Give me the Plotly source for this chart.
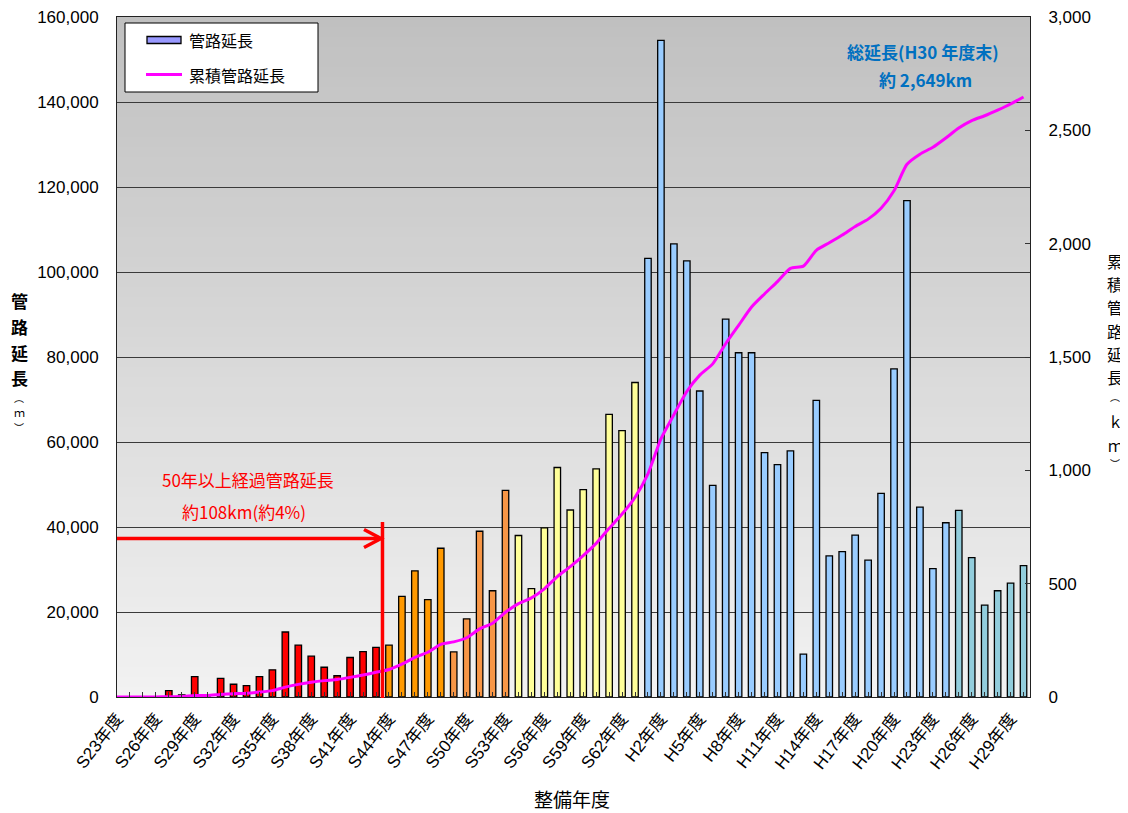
import plotly.graph_objects as go

# ---------------- data ----------------
categories = [
    "S23年度", "S24年度", "S25年度", "S26年度", "S27年度", "S28年度", "S29年度", "S30年度",
    "S31年度", "S32年度", "S33年度", "S34年度", "S35年度", "S36年度", "S37年度", "S38年度",
    "S39年度", "S40年度", "S41年度", "S42年度", "S43年度", "S44年度", "S45年度", "S46年度",
    "S47年度", "S48年度", "S49年度", "S50年度", "S51年度", "S52年度", "S53年度", "S54年度",
    "S55年度", "S56年度", "S57年度", "S58年度", "S59年度", "S60年度", "S61年度", "S62年度",
    "S63年度", "H1年度", "H2年度", "H3年度", "H4年度", "H5年度", "H6年度", "H7年度",
    "H8年度", "H9年度", "H10年度", "H11年度", "H12年度", "H13年度", "H14年度", "H15年度",
    "H16年度", "H17年度", "H18年度", "H19年度", "H20年度", "H21年度", "H22年度", "H23年度",
    "H24年度", "H25年度", "H26年度", "H27年度", "H28年度", "H29年度", "H30年度",
]

shown_labels = [
    "S23年度", "S26年度", "S29年度", "S32年度", "S35年度", "S38年度", "S41年度", "S44年度",
    "S47年度", "S50年度", "S53年度", "S56年度", "S59年度", "S62年度", "H2年度", "H5年度",
    "H8年度", "H11年度", "H14年度", "H17年度", "H20年度", "H23年度", "H26年度", "H29年度",
]

# 管路延長 (m)
pipe_length_m = [
    0, 0, 0, 0, 1500, 500, 4800, 0,
    4400, 3000, 2700, 4800, 6400, 15300, 12200, 9600,
    7000, 5000, 9300, 10700, 11700, 12200, 23700, 29700,
    22900, 35000, 10600, 18400, 39000, 25000, 48600, 38000,
    25500, 39800, 54000, 44000, 48800, 53700, 66500, 62700,
    74000, 103200, 154500, 106600, 102600, 72000, 49800, 88900,
    81000, 81000, 57500, 54700, 57900, 10100, 69800, 33200,
    34200, 38100, 32200, 47900, 77200, 116800, 44700, 30200,
    41000, 43900, 32800, 21600, 25000, 26800, 30900,
]

# 累積管路延長 (km)
cumulative_km = [
    0, 0, 0, 0, 1.5, 2.0, 6.8, 6.8,
    11.2, 14.2, 16.9, 21.7, 28.1, 43.4, 55.6, 65.2,
    72.2, 77.2, 86.5, 97.2, 108.9, 121.1, 144.8, 174.5,
    197.4, 232.4, 243.0, 261.4, 300.4, 325.4, 374.0, 412.0,
    437.5, 477.3, 531.3, 575.3, 624.1, 677.8, 744.3, 807.0,
    881.0, 984.2, 1138.7, 1245.3, 1347.9, 1419.9, 1469.7, 1558.6,
    1639.6, 1720.6, 1778.1, 1832.8, 1890.7, 1900.8, 1970.6, 2003.8,
    2038.0, 2076.1, 2108.3, 2156.2, 2233.4, 2350.2, 2394.9, 2425.1,
    2466.1, 2510.0, 2542.8, 2564.4, 2589.4, 2616.2, 2647.1,
]

bar_colors = (["#FF0000"] * 21 + ["#FF9900"] * 5 + ["#F79646"] * 5 +
              ["#FFFF99"] * 10 + ["#99CCFF"] * 24 + ["#92CDDC"] * 6)

ticktext = [c if c in shown_labels else "" for c in categories]

# ---------------- layout helpers ----------------
# The page body has an 8px margin, so the figure starts at (8, 8) in the window.
OFF = 8
W, H = 1128 - OFF, 813 - OFF
# plot area in window pixels
L, R, T, B = 117, 1030, 17, 697


def px(x):
    return (x - L) / (R - L)


def py(y):
    return (B - y) / (B - T)


FONT = "Liberation Sans, Noto Sans CJK JP, sans-serif"
JFONT = "Noto Sans CJK JP, sans-serif"

fig = go.Figure()
fig.add_trace(go.Bar(
    x=categories, y=pipe_length_m, name="管路延長",
    marker=dict(color=bar_colors, line=dict(color="#000000", width=1.3)),
    width=0.5, showlegend=False,
))
fig.add_trace(go.Scatter(
    x=categories, y=cumulative_km, name="累積管路延長", yaxis="y2",
    mode="lines", line=dict(color="#FF00FF", width=3, shape="spline", smoothing=0.6),
    showlegend=False,
))

shapes = []
# gradient background
n = 68
for k in range(n):
    frac = (k + 0.5) / n
    g = int(round(242 - (242 - 192) * frac))
    shapes.append(dict(type="rect", xref="paper", yref="paper", x0=0, x1=1,
                       y0=k / n, y1=min(1, (k + 1) / n + 0.003),
                       fillcolor=f"rgb({g},{g},{g})", line=dict(width=0), layer="below"))

# legend box
shapes.append(dict(type="rect", xref="paper", yref="paper",
                   x0=px(125), x1=px(318), y0=py(92), y1=py(23),
                   fillcolor="white", line=dict(color="#000000", width=1), layer="above"))
shapes.append(dict(type="rect", xref="paper", yref="paper",
                   x0=px(147), x1=px(181), y0=py(43.5), y1=py(36.5),
                   fillcolor="#9999FF", line=dict(color="#000000", width=1.3), layer="above"))
shapes.append(dict(type="line", xref="paper", yref="paper",
                   x0=px(146), x1=px(182), y0=py(74.5), y1=py(74.5),
                   line=dict(color="#FF00FF", width=3), layer="above"))

# red arrow and boundary line
shapes.append(dict(type="line", xref="paper", yref="paper",
                   x0=0, x1=px(380), y0=py(538.5), y1=py(538.5),
                   line=dict(color="#FF0000", width=3.5), layer="above"))
shapes.append(dict(type="path", xref="paper", yref="paper",
                   path=f"M {px(364)},{py(529.5)} L {px(381)},{py(538.5)} L {px(364)},{py(547.5)}",
                   line=dict(color="#FF0000", width=3.5), layer="above"))
shapes.append(dict(type="line", xref="x", yref="paper",
                   x0=20.5, x1=20.5, y0=py(698), y1=py(522),
                   line=dict(color="#FF0000", width=3.5), layer="above"))

annotations = []


def note(x, y, text, size, color="#000", family=JFONT, xanchor="center"):
    annotations.append(dict(x=px(x), y=py(y), xref="paper", yref="paper", text=text,
                            showarrow=False, xanchor=xanchor, yanchor="middle",
                            font=dict(family=family, size=size, color=color)))


# legend texts
note(187, 40, "管路延長", 16, xanchor="left")
note(187, 75, "累積管路延長", 16, xanchor="left")
# red note
note(248, 479, "50年以上経過管路延長", 17, "#FF0000")
note(244, 511, "約108km(約4%)", 17, "#FF0000")
# blue total
note(923, 51, "<b>総延長(H30 年度末)</b>", 17, "#0070C0")
note(925, 79, "<b>約 2,649km</b>", 17, "#0070C0")
# x axis title
note(572, 799, "整備年度", 19)

# vertical axis titles (stacked characters)
left_title = ["<b>管</b>", "<b>路</b>", "<b>延</b>", "<b>長</b>", "︵", "ｍ", "︶"]
left_y = [300, 326, 352, 377.5, 397, 412, 427]
left_sz = [17, 17, 17, 17, 10, 11, 10]
for ch, yy, sz in zip(left_title, left_y, left_sz):
    note(19, yy, ch, sz)

right_title = ["累", "積", "管", "路", "延", "長", "︵", "ｋ", "ｍ", "︶"]
right_y = [261, 284.2, 307.4, 330.6, 353.8, 377, 396, 421, 445, 463]
right_sz = [16, 16, 16, 16, 16, 16, 10, 15, 15, 10]
for ch, yy, sz in zip(right_title, right_y, right_sz):
    note(1115, yy, ch, sz)

fig.update_layout(
    width=W, height=H, autosize=False,
    margin=dict(l=L - OFF, r=W - (R - OFF), t=T - OFF, b=H - (B - OFF), pad=0, autoexpand=False),
    paper_bgcolor="white", plot_bgcolor="rgba(0,0,0,0)",
    font=dict(family=FONT, size=16, color="#000"),
    barmode="overlay",
    showlegend=False,
    shapes=shapes, annotations=annotations,
    xaxis=dict(type="category", range=[0, 70.5], tickmode="array", automargin=False,
               tickvals=categories, ticktext=ticktext, tickangle=-52,
               ticks="inside", ticklen=5, tickcolor="#333333", tickwidth=1,
               showline=True, linecolor="#222222", linewidth=1, mirror=True,
               showgrid=False, ticklabelstandoff=4, ticklabeloverflow="allow",
               tickfont=dict(family=FONT, size=17, color="#000")),
    yaxis=dict(range=[0, 160000], dtick=20000, tickformat=",", automargin=False,
               showgrid=True, gridcolor="#3a3a3a", gridwidth=1, zeroline=False,
               showline=True, linecolor="#222222", linewidth=1, mirror=True,
               ticks="", ticklabelstandoff=14, ticklabeloverflow="allow",
               tickfont=dict(family=FONT, size=17, color="#000")),
    yaxis2=dict(range=[0, 3000], dtick=500, tickformat=",", overlaying="y", side="right",
                automargin=False, ticklabeloverflow="allow",
                showgrid=False, zeroline=False, showline=True, linecolor="#222222", linewidth=1,
                ticks="inside", ticklen=5, tickcolor="#333333", ticklabelstandoff=14,
                tickfont=dict(family=FONT, size=17, color="#000")),
)

fig.write_html("out.html")
